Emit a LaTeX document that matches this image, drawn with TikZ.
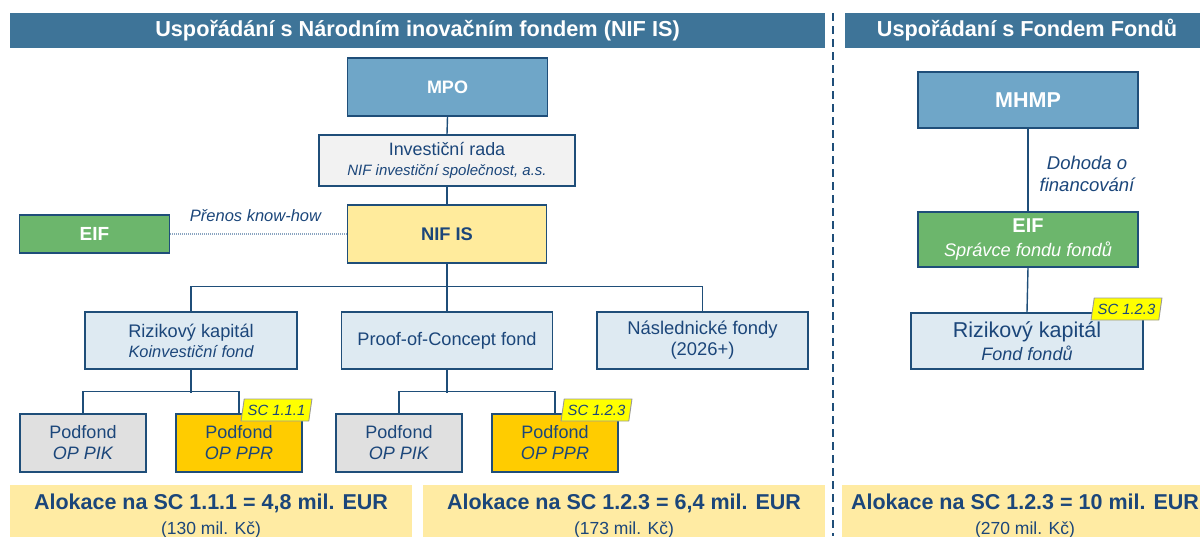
\documentclass[tikz,border=0pt]{standalone}
\usepackage{fontspec}
\setmainfont{Liberation Sans}
\usetikzlibrary{shapes.geometric}
\definecolor{navy}{HTML}{1F4E79}
\definecolor{tblue}{HTML}{1B467A}
\definecolor{barblue}{HTML}{3E7498}
\definecolor{midblue}{HTML}{6FA6C8}
\definecolor{lightblue}{HTML}{DEEAF2}
\definecolor{palegray}{HTML}{F2F2F2}
\definecolor{podgray}{HTML}{E0E0E0}
\definecolor{paleyellow}{HTML}{FFEB9C}
\definecolor{allocyellow}{HTML}{FFEBA3}
\definecolor{goldfill}{HTML}{FFCC00}
\definecolor{eifgreen}{HTML}{6CB66C}
\definecolor{tagyellow}{HTML}{FFFF00}
\definecolor{dotblue}{HTML}{8AA4C0}
\tikzset{
  box/.style={draw=navy, line width=1.6pt, inner sep=0pt, align=center, text=tblue},
  titlebar/.style={fill=barblue, text=white, inner sep=0pt, font=\fontsize{21.7}{24}\selectfont\bfseries},
  alloc/.style={fill=allocyellow, inner sep=0pt, align=center, text=tblue},
  conn/.style={draw=navy, line width=1.4pt},
  tagbox/.style={trapezium, trapezium left angle=75, trapezium right angle=105, trapezium stretches=true,
     fill=tagyellow, draw=gray!80, line width=0.9pt, inner sep=0pt, minimum width=71, minimum height=22,
     text=tblue, font=\fontsize{14.8}{16}\selectfont\itshape},
  lbl/.style={text=tblue, inner sep=0pt, align=center}
}
\begin{document}
\begin{tikzpicture}[x=1pt,y=-1pt]
\useasboundingbox (0,0) rectangle (1200,536);
% title bars
\node[titlebar, minimum width=815, minimum height=35] (t1) at (417.5,30.5) {Uspořádání s Národním inovačním fondem (NIF IS)};
\node[titlebar, minimum width=364, minimum height=35] (t2) at (1027,30.5) {Uspořádaní s Fondem Fondů};
% separator
\draw[navy, line width=2pt, dash pattern=on 8pt off 5pt] (833,13) -- (833,536);
% left tree
\node[box, fill=midblue, text=white, minimum width=200, minimum height=58, font=\fontsize{18}{20}\selectfont\bfseries] (mpo) at (447.5,87) {MPO};
\node[box, fill=palegray, minimum width=256, minimum height=51, font=\fontsize{17.9}{19}\selectfont] (inv) at (447,160.5)
  {Investiční rada\\[1pt]{\fontsize{15}{15}\selectfont\itshape NIF investiční společnost, a.s.}};
\node[box, fill=paleyellow, minimum width=199, minimum height=58, font=\fontsize{18.3}{20}\selectfont\bfseries] (nifis) at (447,234) {NIF IS};
\node[box, fill=eifgreen, text=white, minimum width=150, minimum height=38, font=\fontsize{19}{20}\selectfont\bfseries] (eif1) at (94.5,234) {EIF};
\draw[dotblue, line width=1.8pt, dash pattern=on 1pt off 1pt] (eif1.east) -- (nifis.west);
\node[lbl, font=\fontsize{16.5}{18}\selectfont\itshape] (knowhow) at (255.5,216) {Přenos know-how};

\node[box, fill=lightblue, minimum width=212, minimum height=57, font=\fontsize{18.2}{20}\selectfont] (riz) at (191,340.5)
  {Rizikový kapitál\\{\fontsize{16.4}{18}\selectfont\itshape Koinvestiční fond}};
\node[box, fill=lightblue, minimum width=211, minimum height=57, font=\fontsize{18.2}{20}\selectfont] (poc) at (447,340.5) {Proof-of-Concept fond};
\node[box, fill=lightblue, minimum width=211, minimum height=57, font=\fontsize{18.4}{21}\selectfont] (nasl) at (702.5,340.5) {Následnické fondy\\(2026+)};

\draw[conn] (mpo.south) -- (inv.north);
\draw[conn] (inv.south) -- (nifis.north);
\draw[conn] (nifis.south) -- (poc.north);
\draw[conn] (riz.north) -- ++(0,-25) -| (nasl.north);

\node[box, fill=podgray, minimum width=126, minimum height=58, font=\fontsize{18}{21}\selectfont] (pik1) at (83,443) {Podfond\\\itshape OP PIK};
\node[box, fill=goldfill, minimum width=126, minimum height=58, font=\fontsize{18}{21}\selectfont] (ppr1) at (239,443) {Podfond\\\itshape OP PPR};
\node[box, fill=podgray, minimum width=126, minimum height=58, font=\fontsize{18}{21}\selectfont] (pik2) at (399,443) {Podfond\\\itshape OP PIK};
\node[box, fill=goldfill, minimum width=126, minimum height=58, font=\fontsize{18}{21}\selectfont] (ppr2) at (555,443) {Podfond\\\itshape OP PPR};

\draw[conn] (riz.south) -- ++(0,23);
\draw[conn] (pik1.north) -- ++(0,-22) -| (ppr1.north);
\draw[conn] (poc.south) -- ++(0,23);
\draw[conn] (pik2.north) -- ++(0,-22) -| (ppr2.north);

\node[tagbox] (tag1) at (276.5,410) {SC 1.1.1};
\node[tagbox] (tag2) at (596.5,410) {SC 1.2.3};

% right tree
\node[box, fill=midblue, text=white, minimum width=220, minimum height=56, font=\fontsize{21.5}{26}\selectfont\bfseries] (mhmp) at (1028,100) {MHMP};
\node[box, fill=eifgreen, text=white, minimum width=220, minimum height=55, font=\fontsize{20}{24}\selectfont\bfseries] (eif2) at (1028,239.5)
  {EIF\\{\fontsize{18.2}{20}\selectfont\mdseries\itshape Správce fondu fondů}};
\node[box, fill=lightblue, minimum width=232, minimum height=56, font=\fontsize{21.5}{23}\selectfont] (riz2) at (1027,341)
  {Rizikový kapitál\\{\fontsize{18}{20}\selectfont\itshape Fond fondů}};
\draw[conn] (mhmp.south) -- (eif2.north);
\draw[conn] (eif2.south) -- (riz2.north);
\node[lbl, font=\fontsize{18.5}{22}\selectfont\itshape] (dohoda) at (1087,174) {Dohoda o\\financování};
\node[tagbox] (tag3) at (1126.5,309) {SC 1.2.3};

% allocations
\node[alloc, minimum width=402, minimum height=62, font=\fontsize{21.5}{25}\selectfont\bfseries] (al1) at (211,516)
  {Alokace na SC 1.1.1 = 4,8 mil. EUR\\{\fontsize{17.5}{18}\selectfont\mdseries (130 mil. Kč)}};
\node[alloc, minimum width=402, minimum height=62, font=\fontsize{21.5}{25}\selectfont\bfseries] (al2) at (624,516)
  {Alokace na SC 1.2.3 = 6,4 mil. EUR\\{\fontsize{17.5}{18}\selectfont\mdseries (173 mil. Kč)}};
\node[alloc, minimum width=366, minimum height=62, font=\fontsize{21.5}{25}\selectfont\bfseries] (al3) at (1025,516)
  {Alokace na SC 1.2.3 = 10 mil. EUR\\{\fontsize{17.5}{18}\selectfont\mdseries (270 mil. Kč)}};
\end{tikzpicture}
\end{document}
